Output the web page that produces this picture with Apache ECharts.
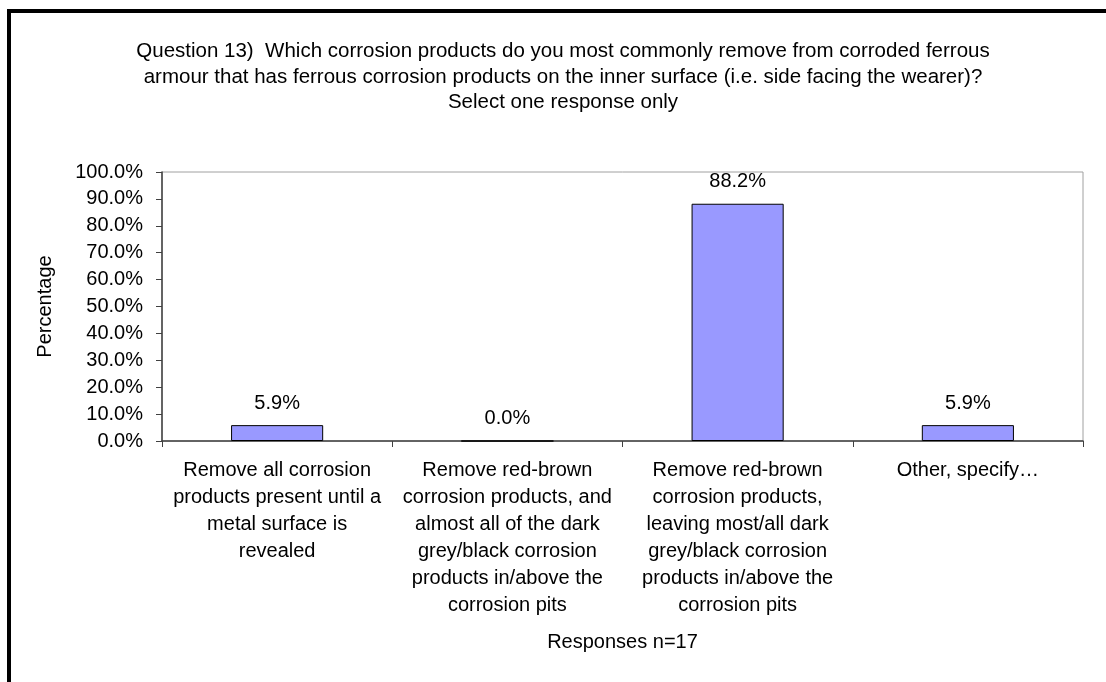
<!DOCTYPE html>
<html>
<head>
<meta charset="utf-8">
<script src="https://cdn.jsdelivr.net/npm/echarts@6/dist/echarts.min.js"></script>
<style>
  html, body { margin: 0; padding: 0; background: #fff; }
  #chart { width: 1106px; height: 682px; }
</style>
</head>
<body>
<div id="chart"></div>
<script>
// Survey responses, Question 13
const titleText = 'Question 13)  Which corrosion products do you most commonly remove from corroded ferrous\n' +
  'armour that has ferrous corrosion products on the inner surface (i.e. side facing the wearer)?\n' +
  'Select one response only';
const categories = [
  'Remove all corrosion\nproducts present until a\nmetal surface is\nrevealed',
  'Remove red-brown\ncorrosion products, and\nalmost all of the dark\ngrey/black corrosion\nproducts in/above the\ncorrosion pits',
  'Remove red-brown\ncorrosion products,\nleaving most/all dark\ngrey/black corrosion\nproducts in/above the\ncorrosion pits',
  'Other, specify\u2026'
];
const percentages = [5.9, 0.0, 88.2, 5.9];
const yAxisTitle = 'Percentage';
const xAxisTitle = 'Responses n=17';

const FONT = '"Liberation Sans", Arial, sans-serif';
const chart = echarts.init(document.getElementById('chart'), null, { renderer: 'canvas' });

chart.setOption({
  backgroundColor: '#ffffff',
  animation: false,
  textStyle: { fontFamily: FONT, color: '#000' },
  title: {
    text: titleText,
    left: 558,
    top: 34,
    textAlign: 'center',
    textStyle: { fontFamily: FONT, fontSize: 20.5, fontWeight: 'normal', color: '#000', lineHeight: 25.5, align: 'center' }
  },
  // chart-area frame (thick black edge along top and left)
  graphic: [{
    type: 'rect',
    shape: { x: 9, y: 11, width: 1300, height: 900 },
    style: { fill: 'none', stroke: '#000', lineWidth: 4 },
    silent: true,
    z: 100
  }],
  grid: {
    left: 162, top: 172, right: 23, bottom: 241,
    show: true, borderColor: '#a0a0a0', borderWidth: 1, backgroundColor: '#fff'
  },
  xAxis: {
    type: 'category',
    data: categories,
    name: xAxisTitle,
    nameLocation: 'middle',
    nameGap: 191,
    nameTextStyle: { fontFamily: FONT, fontSize: 20, color: '#000' },
    axisLine: { lineStyle: { color: '#404040', width: 1.5 } },
    axisTick: { show: true, length: 6, lineStyle: { color: '#404040' } },
    axisLabel: {
      interval: 0, margin: 16, fontFamily: FONT, fontSize: 20, color: '#000',
      lineHeight: 27, align: 'center'
    },
    splitLine: { show: false }
  },
  yAxis: {
    type: 'value',
    min: 0, max: 100, interval: 10,
    name: yAxisTitle,
    nameLocation: 'middle',
    nameGap: 107,
    nameRotate: 90,
    nameTextStyle: { fontFamily: FONT, fontSize: 20, color: '#000' },
    axisLine: { show: true, lineStyle: { color: '#404040', width: 1.5 } },
    axisTick: { show: true, length: 6, lineStyle: { color: '#404040' } },
    axisLabel: {
      margin: 19, fontFamily: FONT, fontSize: 20, color: '#000',
      formatter: v => v.toFixed(1) + '%'
    },
    splitLine: { show: false }
  },
  series: [{
    type: 'bar',
    data: percentages,
    barWidth: '40%',
    itemStyle: { color: '#9999ff', borderColor: '#000', borderWidth: 1 },
    label: {
      show: true, position: 'top', distance: 12,
      fontFamily: FONT, fontSize: 20, color: '#000',
      formatter: p => p.value.toFixed(1) + '%'
    }
  }]
});
</script>
</body>
</html>
